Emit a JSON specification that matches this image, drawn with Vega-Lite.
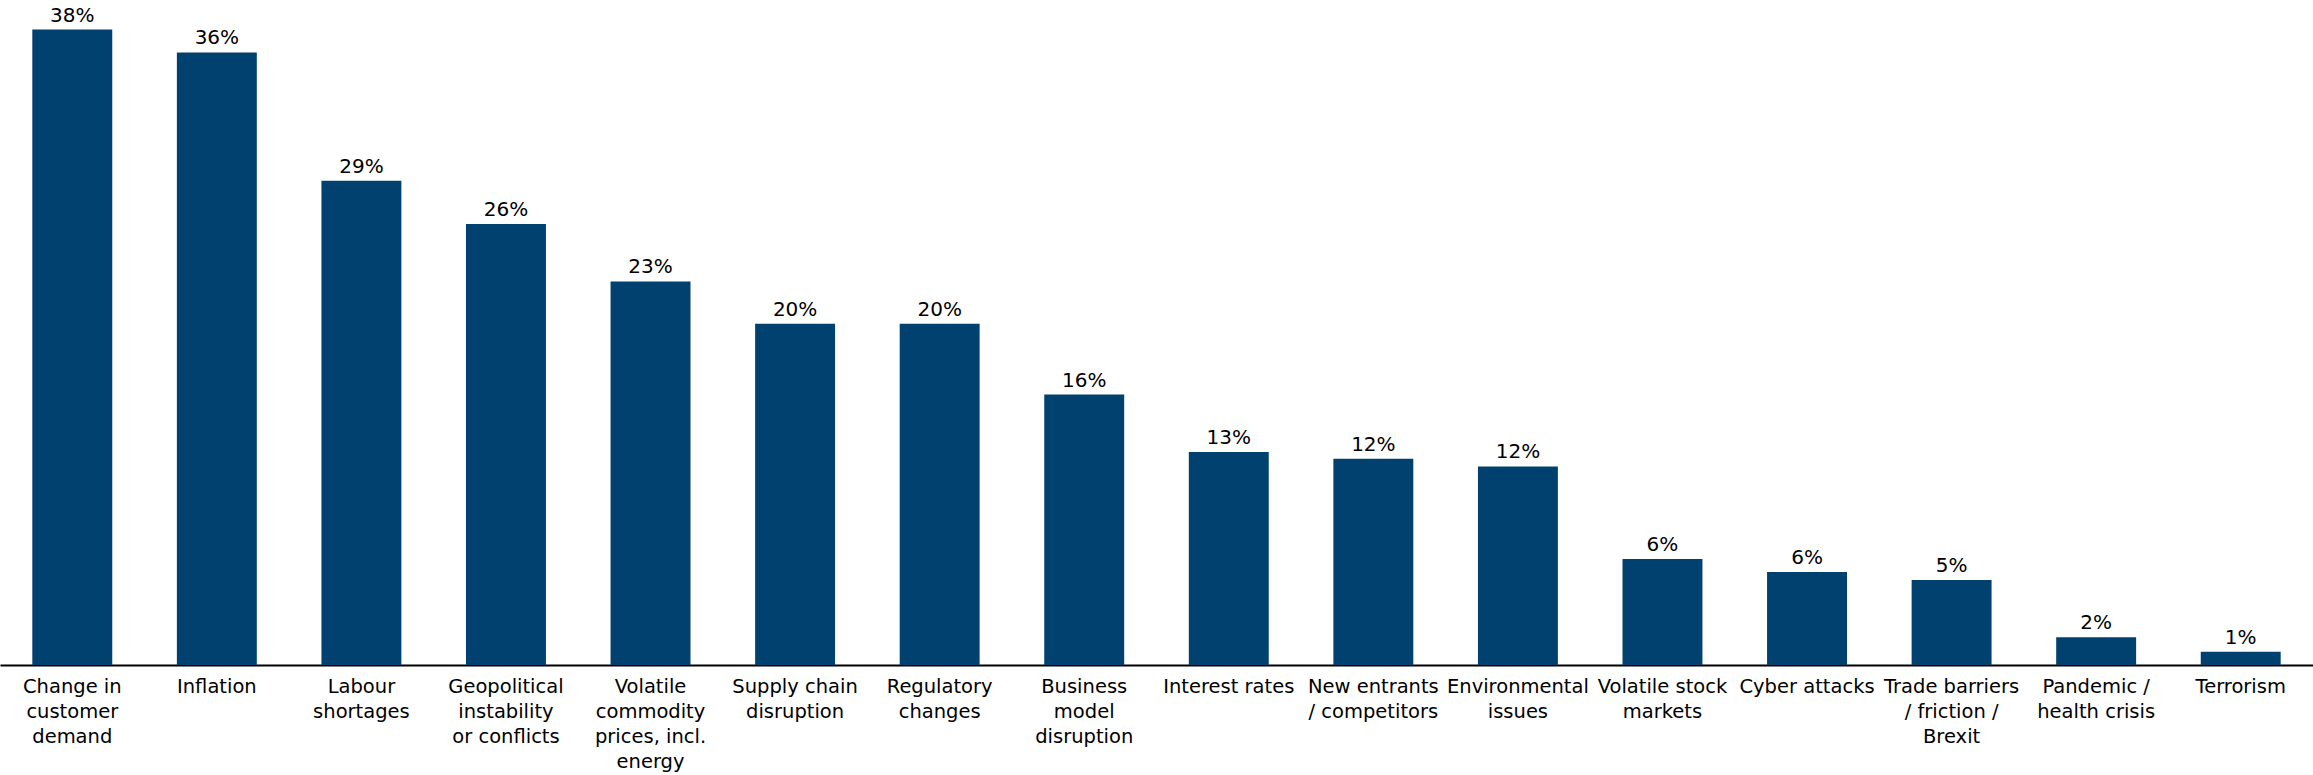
{
  "$schema": "https://vega.github.io/schema/vega-lite/v6.json",
  "width": 2313,
  "height": 665,
  "autosize": {"type": "none"},
  "padding": {"left": 0, "top": 0, "right": 0, "bottom": 110},
  "background": "white",
  "data": {
    "values": [
      {"risk": "Change in\ncustomer\ndemand", "share": 0.376},
      {"risk": "Inflation", "share": 0.3625},
      {"risk": "Labour\nshortages", "share": 0.2865},
      {"risk": "Geopolitical\ninstability\nor conflicts", "share": 0.261},
      {"risk": "Volatile\ncommodity\nprices, incl.\nenergy", "share": 0.227},
      {"risk": "Supply chain\ndisruption", "share": 0.202},
      {"risk": "Regulatory\nchanges", "share": 0.202},
      {"risk": "Business\nmodel\ndisruption", "share": 0.16},
      {"risk": "Interest rates", "share": 0.126},
      {"risk": "New entrants\n/ competitors", "share": 0.122},
      {"risk": "Environmental\nissues", "share": 0.1175},
      {"risk": "Volatile stock\nmarkets", "share": 0.0627},
      {"risk": "Cyber attacks", "share": 0.055},
      {"risk": "Trade barriers\n/ friction /\nBrexit", "share": 0.0503},
      {"risk": "Pandemic /\nhealth crisis", "share": 0.0164},
      {"risk": "Terrorism", "share": 0.0079}
    ]
  },
  "encoding": {
    "x": {
      "field": "risk",
      "type": "nominal",
      "sort": null,
      "scale": {"paddingInner": 0.447, "paddingOuter": 0.2235},
      "axis": {
        "title": null,
        "labelAngle": 0,
        "labelExpr": "split(datum.label, '\\n')",
        "labelFont": "DejaVu Sans",
        "labelFontSize": 19.5,
        "labelLineHeight": 25,
        "labelColor": "#000000",
        "labelBaseline": "top",
        "labelPadding": 12,
        "labelLimit": 0,
        "ticks": false,
        "domainColor": "#000000",
        "domainWidth": 2
      }
    },
    "y": {
      "field": "share",
      "type": "quantitative",
      "scale": {"domain": [0, 0.3935], "nice": false},
      "axis": null
    }
  },
  "layer": [
    {"mark": {"type": "bar", "color": "#004170"}},
    {
      "mark": {"type": "text", "baseline": "alphabetic", "dy": -8, "font": "DejaVu Sans", "fontSize": 20, "color": "#000000"},
      "encoding": {"text": {"field": "share", "type": "quantitative", "format": ".0%"}}
    }
  ],
  "config": {"view": {"stroke": null}}
}
